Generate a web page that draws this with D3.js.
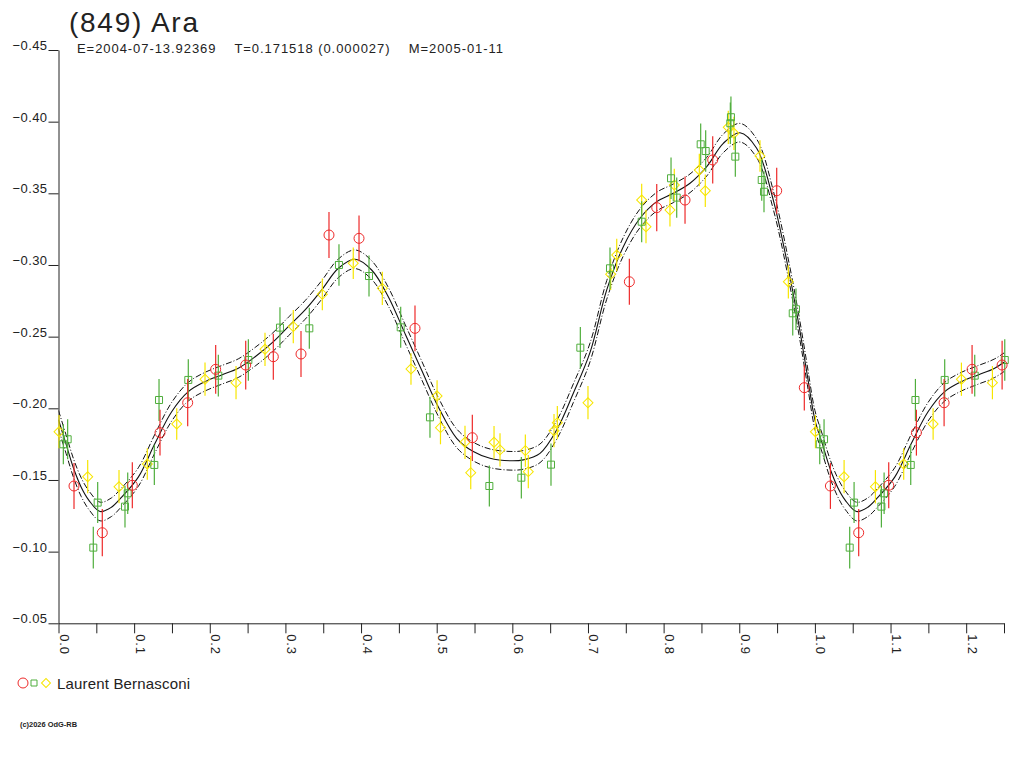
<!DOCTYPE html>
<html>
<head>
<meta charset="utf-8">
<script src="https://cdn.jsdelivr.net/npm/d3@7"></script>
<style>
  body { margin: 0; background: #fff; }
  text { font-family: Arial, "Liberation Sans", sans-serif; fill: #222; }
</style>
</head>
<body>
<div class="chart"></div>
<script>
// ---- data (phase, magnitude, error) ----
const redPhase = [0.0205,0.0579,0.0976,0.1342,0.1708,0.2078,0.2475,0.284,0.3206,0.3576,0.3973,0.4713,0.5471,0.7547,0.7909,0.8283,0.8649,0.9495,0.986];
const redMag   = [-0.1458,-0.1132,-0.1463,-0.183,-0.2039,-0.2272,-0.2302,-0.236,-0.2379,-0.3209,-0.3186,-0.2558,-0.1795,-0.2883,-0.34,-0.3453,-0.3733,-0.3518,-0.2144];
const redErr   = [0.016,0.0165,0.016,0.016,0.0165,0.017,0.017,0.016,0.016,0.016,0.016,0.016,0.016,0.016,0.0165,0.0165,0.0165,0.016,0.016];

const greenPhase = [0.0064,0.0121,0.046,0.0518,0.0879,0.0915,0.1267,0.1329,0.1716,0.2113,0.251,0.2928,0.3316,0.3708,0.4105,0.4524,0.4911,0.5696,0.6119,0.6511,0.6899,0.7291,0.771,0.8098,0.8173,0.849,0.8556,0.8882,0.889,0.8948,0.9297,0.9327,0.9707,0.975];
const greenMag   = [-0.1749,-0.1784,-0.1028,-0.1342,-0.1314,-0.1407,-0.1605,-0.2058,-0.2198,-0.2228,-0.2337,-0.2563,-0.2558,-0.3,-0.2923,-0.2565,-0.1937,-0.1458,-0.1516,-0.1607,-0.2423,-0.2977,-0.3302,-0.3605,-0.347,-0.3842,-0.3795,-0.3989,-0.4031,-0.3756,-0.3593,-0.3511,-0.2663,-0.2691];
const greenErr   = [0.014,0.014,0.0145,0.0143,0.0145,0.0145,0.014,0.0147,0.0145,0.0145,0.0145,0.0143,0.0143,0.0145,0.0143,0.0143,0.0143,0.0143,0.0145,0.0148,0.0145,0.0145,0.0143,0.0145,0.014,0.0145,0.0145,0.0145,0.0145,0.014,0.0145,0.0143,0.0155,0.0145];

const yellowPhase = [0.0007,0.0386,0.080,0.1174,0.1563,0.1937,0.2347,0.273,0.3104,0.3488,0.3897,0.4281,0.466,0.5005,0.505,0.5374,0.545,0.5758,0.5837,0.6172,0.6211,0.6551,0.6595,0.70,0.730,0.738,0.771,0.7767,0.8084,0.8141,0.8472,0.8551,0.8855,0.893,0.9274,0.9649];
const yellowMag   = [-0.1837,-0.1523,-0.1453,-0.1612,-0.1891,-0.2203,-0.2179,-0.2412,-0.257,-0.2795,-0.3012,-0.2837,-0.2274,-0.2086,-0.1865,-0.1763,-0.1551,-0.1763,-0.171,-0.1705,-0.1558,-0.1844,-0.19,-0.2039,-0.2935,-0.307,-0.3453,-0.3267,-0.3384,-0.3558,-0.3663,-0.3518,-0.3961,-0.3919,-0.376,-0.2883];
const yellowErr   = [0.0116,0.0116,0.0116,0.011,0.011,0.0116,0.0116,0.0116,0.0116,0.011,0.011,0.0116,0.011,0.011,0.0116,0.0116,0.0116,0.0113,0.0116,0.0113,0.0116,0.0116,0.0116,0.0116,0.011,0.0113,0.0113,0.0116,0.0116,0.0113,0.0113,0.0113,0.0116,0.0116,0.011,0.0116];

// fitted curve (phase, magnitude)
const fitPhase = [0,0.01,0.02,0.03,0.04,0.055,0.07,0.0835,0.1055,0.1276,0.1496,0.1716,0.1937,0.2157,0.2377,0.26,0.283,0.3038,0.326,0.348,0.37,0.392,0.414,0.436,0.458,0.48,0.502,0.5264,0.5484,0.5705,0.597,0.6145,0.6366,0.6586,0.6806,0.7027,0.7248,0.7467,0.7688,0.7909,0.8128,0.8349,0.857,0.8789,0.901,0.923,0.945,0.967,0.98,0.99];
const fitMag   = [-0.192,-0.175,-0.158,-0.145,-0.136,-0.128,-0.131,-0.138,-0.152,-0.1756,-0.1976,-0.2116,-0.2186,-0.2233,-0.228,-0.236,-0.246,-0.257,-0.2686,-0.2826,-0.2977,-0.304,-0.2965,-0.2779,-0.2523,-0.2267,-0.2011,-0.1791,-0.1698,-0.1651,-0.1634,-0.164,-0.1686,-0.1849,-0.2105,-0.239,-0.2826,-0.3128,-0.3326,-0.3442,-0.35,-0.357,-0.3686,-0.3849,-0.3923,-0.3814,-0.3453,-0.2918,-0.2547,-0.223];
const fitBand = 0.0065;

const yTicks = [-0.45,-0.40,-0.35,-0.30,-0.25,-0.20,-0.15,-0.10,-0.05];
const xTicks = [0,0.05,0.1,0.15,0.2,0.25,0.3,0.35,0.4,0.45,0.5,0.55,0.6,0.65,0.7,0.75,0.8,0.85,0.9,0.95,1.0,1.05,1.1,1.15,1.2,1.25];
const xLabels = [0,0.1,0.2,0.3,0.4,0.5,0.6,0.7,0.8,0.9,1.0,1.1,1.2];

const title = "(849) Ara";
const subtitle = "E=2004-07-13.92369    T=0.171518 (0.000027)    M=2005-01-11";
const observer = "Laurent Bernasconi";
const copyright = "(c)2026 OdG-RB";

const red = "#ee2a2a", green = "#4fae3c", yellow = "#f7e600";

// ---- chart ----
const width = 1024, height = 768;
const svg = d3.select(".chart").append("svg").attr("width", width).attr("height", height);

const x = d3.scaleLinear().domain([0, 1.25]).range([58.5, 1004]);
const y = d3.scaleLinear().domain([-0.45, -0.05]).range([50, 623.3]);

svg.append("defs").append("clipPath").attr("id", "plot")
  .append("rect").attr("x", x(0)).attr("y", 0).attr("width", x(1.25) - x(0)).attr("height", y(-0.05));

// title
svg.append("text").attr("x", 69).attr("y", 32).attr("font-size", 28)
  .attr("textLength", 129).attr("lengthAdjust", "spacing").text(title);
svg.append("text").attr("x", 77).attr("y", 53).attr("font-size", 13)
  .style("white-space", "pre").attr("textLength", 426).attr("lengthAdjust", "spacing").text(subtitle);

// axes
const yAxis = d3.axisLeft(y).tickValues(yTicks).tickSize(10).tickSizeOuter(0).tickPadding(1)
  .tickFormat(d3.format(".2f"));
const gy = svg.append("g").attr("transform", `translate(${x(0)},0)`).call(yAxis);
gy.selectAll("text").attr("dy", "-0.5").attr("font-size", 13).attr("letter-spacing", 0.4).attr("fill", "#222");

const xAxis = d3.axisBottom(x).tickValues(xTicks).tickSize(10).tickSizeOuter(0)
  .tickFormat(d => xLabels.some(v => Math.abs(v - d) < 1e-9) ? d3.format(".1f")(d) : "");
const gx = svg.append("g").attr("transform", `translate(0,${y(-0.05)})`).call(xAxis);
gx.selectAll("text").attr("transform", "rotate(90)").attr("x", 11).attr("y", -1).attr("dy", 0)
  .style("text-anchor", "start").attr("font-size", 13).attr("letter-spacing", 0.8).attr("fill", "#222");
svg.selectAll(".domain, .tick line").attr("stroke", "#222");

// fit curve and band, repeated past phase 1
const fit = fitPhase.map((p, i) => ({p: p, m: fitMag[i]}));
const fitAll = fit.concat(fit.filter(d => d.p <= 0.3).map(d => ({p: d.p + 1, m: d.m})));
const line = off => d3.line().x(d => x(d.p)).y(d => y(d.m + off)).curve(d3.curveCatmullRom.alpha(0.5));

const gc = svg.append("g").attr("clip-path", "url(#plot)").attr("fill", "none").attr("stroke", "#111");
gc.append("path").datum(fitAll).attr("d", line(0)).attr("stroke-width", 1.1);
gc.append("path").datum(fitAll).attr("d", line(-fitBand)).attr("stroke-dasharray", "6,2,1,2");
gc.append("path").datum(fitAll).attr("d", line(fitBand)).attr("stroke-dasharray", "6,2,1,2");

// points
const series = [
  {phase: yellowPhase, mag: yellowMag, err: yellowErr, color: yellow, shape: "diamond"},
  {phase: greenPhase, mag: greenMag, err: greenErr, color: green, shape: "square"},
  {phase: redPhase, mag: redMag, err: redErr, color: red, shape: "circle"}
];
const symbolPath = {
  circle: d3.symbol(d3.symbolCircle, Math.PI * 25)(),
  square: d3.symbol(d3.symbolSquare, 49)(),
  diamond: d3.symbol(d3.symbolSquare, 50)()
};

series.forEach(s => {
  let pts = s.phase.map((p, i) => ({p: p, m: s.mag[i], e: s.err[i]}));
  pts = pts.concat(pts.filter(d => d.p + 1 <= 1.252).map(d => ({p: d.p + 1, m: d.m, e: d.e})));
  const g = svg.append("g");
  g.selectAll("line").data(pts).enter().append("line")
    .attr("x1", d => x(d.p)).attr("x2", d => x(d.p))
    .attr("y1", d => y(d.m - d.e)).attr("y2", d => y(d.m + d.e))
    .attr("stroke", s.color).attr("stroke-width", 1.2);
  g.selectAll("path").data(pts).enter().append("path")
    .attr("d", symbolPath[s.shape])
    .attr("transform", d => `translate(${x(d.p)},${y(d.m)})` + (s.shape === "diamond" ? " rotate(45)" : ""))
    .attr("fill", "none").attr("stroke", s.color).attr("stroke-width", 1);
});

// legend
const lg = svg.append("g").attr("transform", "translate(0,683)");
lg.append("path").attr("d", d3.symbol(d3.symbolCircle, Math.PI * 25)()).attr("transform", "translate(23,0)")
  .attr("fill", "none").attr("stroke", red);
lg.append("path").attr("d", d3.symbol(d3.symbolSquare, 36)()).attr("transform", "translate(34,0)")
  .attr("fill", "none").attr("stroke", green);
lg.append("path").attr("d", d3.symbol(d3.symbolSquare, 40)()).attr("transform", "translate(46,0) rotate(45)")
  .attr("fill", "none").attr("stroke", yellow);
lg.append("text").attr("x", 57).attr("y", 5.5).attr("font-size", 15)
  .attr("textLength", 133).attr("lengthAdjust", "spacing").text(observer);

svg.append("text").attr("x", 20).attr("y", 727).attr("font-size", 7.5).attr("font-weight", "bold")
  .attr("textLength", 57).attr("lengthAdjust", "spacingAndGlyphs").text(copyright);
</script>
</body>
</html>
